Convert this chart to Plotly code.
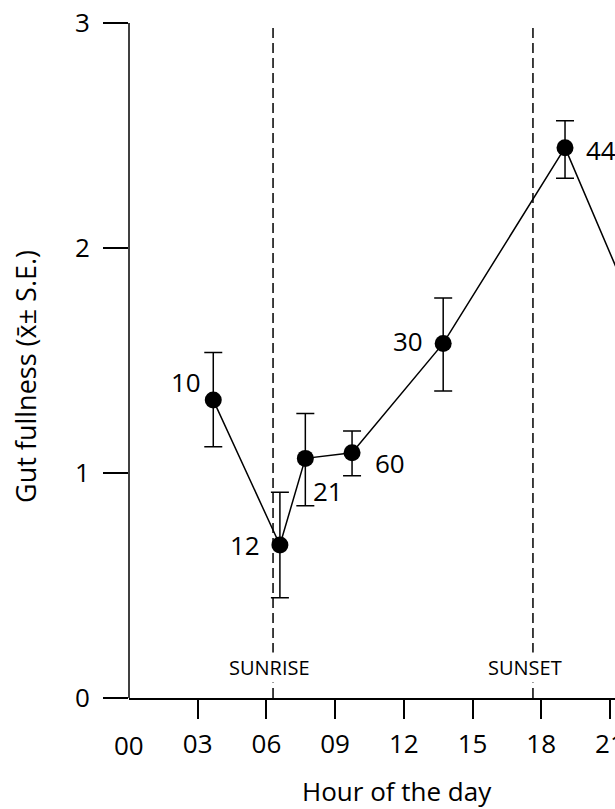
import plotly.graph_objects as go

# ---- data ----
HOURS = [3.68, 6.59, 7.70, 9.74, 13.72, 19.04, 22.0]
FULLNESS = [1.324, 0.680, 1.065, 1.090, 1.576, 2.446, 1.74]
SE_UP = [0.211, 0.234, 0.200, 0.097, 0.202, 0.120, 0.15]
SE_DOWN = [0.207, 0.234, 0.210, 0.102, 0.212, 0.136, 0.15]
N_FISH = ["10", "12", "21", "60", "30", "44", "18"]
SUNRISE_H = 6.29
SUNSET_H = 17.64
TICK_HOURS = [3, 6, 9, 12, 15, 18, 21]
TICK_TEXT = ["03", "06", "09", "12", "15", "18", "21"]
Y_TICKS = [0, 1, 2, 3]

# ---- style ----
FONT = "Open Sans"
LABEL_OFFSETS = [(-27, 18), (-35, 0), (23, -33), (38, -10), (-35, 2), (36, -2), (-43, 21)]
W, H = 615, 809
ML, MB = 129, 111
PX_PER_H = 22.9
PX_PER_UNIT = 225.0

fig = go.Figure()
fig.add_trace(go.Scatter(
    x=HOURS, y=FULLNESS, mode="lines+markers",
    line=dict(color="black", width=1.5),
    marker=dict(color="black", size=17),
    error_y=dict(type="data", symmetric=False, array=SE_UP, arrayminus=SE_DOWN,
                 color="black", thickness=1.5, width=9),
    showlegend=False, cliponaxis=True,
))

for h in (SUNRISE_H, SUNSET_H):
    fig.add_shape(type="line", xref="x", yref="y", x0=h, x1=h, y0=0, y1=3,
                  line=dict(color="black", width=1.5, dash="10px,5px"), layer="below")

fig.add_annotation(x=SUNRISE_H, y=0, text="SUNRISE", showarrow=False, yanchor="bottom",
                   yshift=15, xshift=-4, bgcolor="white", font=dict(family=FONT, size=20, color="black"))
fig.add_annotation(x=SUNSET_H, y=0, text="SUNSET", showarrow=False, yanchor="bottom",
                   yshift=15, xshift=-8, bgcolor="white", font=dict(family=FONT, size=20, color="black"))

# y-axis line from 0 to 3
fig.add_shape(type="line", xref="paper", yref="y", x0=0, x1=0, y0=0, y1=max(Y_TICKS),
              line=dict(color="black", width=1.5))

for h, v, n, (dx, dy) in zip(HOURS, FULLNESS, N_FISH, LABEL_OFFSETS):
    fig.add_annotation(x=h, y=v, text=n, showarrow=False, xshift=dx, yshift=dy,
                       xanchor="center", yanchor="middle",
                       font=dict(family=FONT, size=26, color="black"))

fig.add_annotation(x=0, y=0, text="00", showarrow=False, yshift=-47,
                   xanchor="center", yanchor="middle",
                   font=dict(family=FONT, size=26, color="black"))

fig.add_annotation(xref="paper", yref="paper", x=(397 - ML) / (W - ML), y=(H - MB - 791) / (H - MB),
                   xanchor="center", yanchor="middle",
                   text="Hour of the day", showarrow=False, font=dict(family=FONT, size=26, color="black"))
fig.add_annotation(xref="paper", yref="paper", x=(26 - ML) / (W - ML), y=(H - MB - 377) / (H - MB),
                   xanchor="center", yanchor="middle",
                   text="Gut fullness (x̄± S.E.)", textangle=-90, showarrow=False,
                   font=dict(family=FONT, size=27, color="black"))

fig.update_layout(
    width=W, height=H, margin=dict(l=ML, r=0, t=0, b=MB, pad=0, autoexpand=False),
    plot_bgcolor="white", paper_bgcolor="white",
    font=dict(family=FONT, size=26, color="black"),
    xaxis=dict(range=[0, (W - ML) / PX_PER_H], tickvals=TICK_HOURS, ticktext=TICK_TEXT,
               ticks="outside", ticklen=19, tickwidth=1.5, tickcolor="black",
               showline=True, linecolor="black", linewidth=1.5, showgrid=False, zeroline=False,
               automargin=False,
               ticklabelstandoff=3, ticklabeloverflow="allow", tickfont=dict(family=FONT, size=26)),
    yaxis=dict(range=[0, (H - MB) / PX_PER_UNIT], tickvals=Y_TICKS,
               ticks="outside", ticklen=25, tickwidth=1.5, tickcolor="black",
               showline=False, showgrid=False, zeroline=False, automargin=False,
               ticklabelstandoff=8, tickfont=dict(family=FONT, size=26)),
)

fig.write_html("out.html", config={"displayModeBar": False},
               post_script="document.body.style.margin='0';document.body.style.overflow='hidden';")
